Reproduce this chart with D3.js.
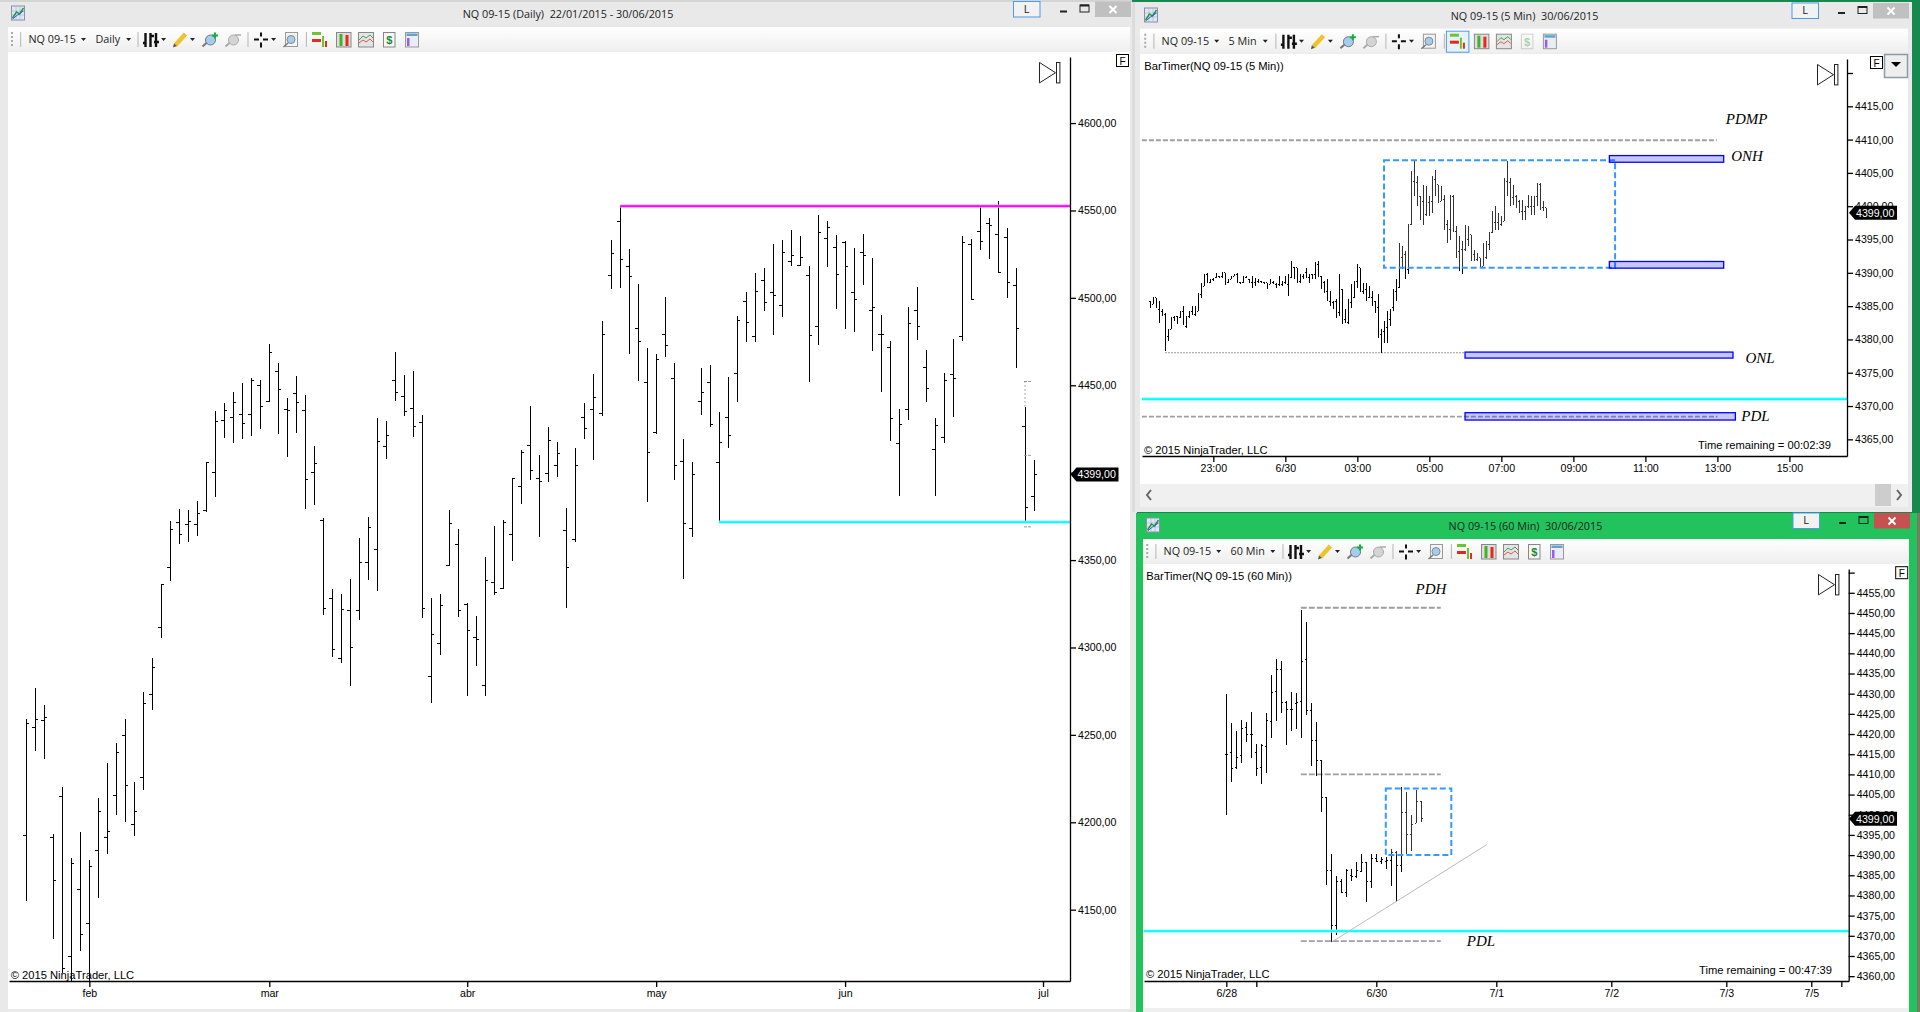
<!DOCTYPE html>
<html>
<head>
<meta charset="utf-8">
<title>NQ 09-15</title>
<script src="https://cdn.jsdelivr.net/npm/d3@7"></script>
<style>
html, body { margin: 0; padding: 0; background: #e9e9e9; overflow: hidden; }
svg { display: block; }
text { font-family: "Liberation Sans", Arial, sans-serif; fill: #000; }
.ui { font-family: "Open Sans", "Noto Sans", sans-serif; fill: #222; }
.note { font-family: "Liberation Serif", serif; font-style: italic; font-size: 15px; text-anchor: middle; }
.axis text { font-size: 10.6px; }
.axis path, .axis line { stroke: #000; stroke-width: 1.3; }
.bar { stroke: #000; stroke-width: 1; shape-rendering: crispEdges; fill: none; }
</style>
</head>
<body>
<div id="chart"></div>
<script>
// ---- daily chart, 22/01/2015 - 30/06/2015
var dailyOpen = [4192.7,4254.2,4258.2,4191.3,4214.8,4123.3,4161.6,4142.1,4183.9,4191.3,
  4215.3,4249.7,4198.8,4225.6,4273.1,4311.5,4345.8,4371.5,4370.4,4370.4,
  4378.2,4400.2,4429.9,4431.6,4433.4,4433.4,4449.9,4440.6,4458.0,4436.2,
  4445.4,4435.6,4400.2,4372.9,4328.0,4293.7,4321.2,4321.2,4348.6,4356.1,
  4415.1,4453.0,4443.7,4436.8,4428.8,4283.4,4302.3,4346.9,4358.9,4324.6,
  4305.7,4278.3,4337.2,4333.6,4364.7,4392.2,4415.6,4396.7,4399.6,4404.2,
  4367.0,4361.9,4431.8,4436.3,4433.8,4512.9,4543.7,4518.0,4482.2,4451.8,
  4423.2,4478.8,4454.0,4406.4,4367.8,4440.8,4451.8,4405.8,4431.4,4456.9,
  4498.0,4478.0,4510.0,4503.1,4495.7,4520.9,4518.6,4512.7,4483.9,4534.1,
  4529.0,4531.5,4503.1,4526.0,4492.9,4479.0,4471.4,4416.9,4436.3,4492.9,
  4460.4,4413.4,4420.1,4456.3,4478.0,4530.7,4538.0,4542.7,4536.4,4534.7,
  4506.8,4426.5,4386.4];
var dailyHigh = [4259.0,4276.6,4267.0,4193.2,4220.1,4179.3,4194.4,4178.7,4213.8,4233.8,
  4245.3,4259.0,4223.0,4274.5,4293.9,4336.6,4372.3,4379.2,4378.6,4383.7,
  4405.9,4435.3,4439.8,4446.1,4451.3,4454.0,4453.0,4473.6,4462.7,4442.7,
  4455.3,4444.4,4415.2,4373.8,4333.4,4330.5,4339.1,4362.6,4374.6,4431.1,
  4429.5,4469.0,4455.9,4458.2,4433.0,4328.2,4330.5,4378.6,4367.7,4325.2,
  4317.9,4351.7,4369.4,4373.2,4396.7,4412.8,4438.1,4410.1,4426.1,4417.4,
  4379.9,4414.0,4439.9,4456.5,4486.7,4533.1,4552.3,4528.0,4508.0,4471.4,
  4467.9,4500.4,4462.8,4419.3,4406.0,4460.0,4461.6,4434.6,4454.7,4489.6,
  4503.3,4514.3,4517.0,4530.9,4533.1,4538.8,4535.4,4518.2,4547.4,4543.9,
  4536.0,4532.5,4528.6,4536.6,4522.9,4490.2,4475.3,4436.5,4494.7,4506.1,
  4470.2,4431.4,4457.1,4476.5,4535.4,4533.7,4552.3,4545.8,4555.4,4540.1,
  4517.2,4437.5,4407.3];
var dailyLow = [4155.1,4240.9,4236.3,4133.3,4113.5,4109.1,4126.5,4109.1,4156.8,4182.0,
  4204.3,4200.3,4192.3,4218.6,4264.3,4305.5,4338.2,4359.3,4360.5,4363.9,
  4377.5,4386.3,4420.0,4417.2,4419.4,4421.2,4425.2,4440.2,4422.3,4409.1,
  4422.9,4379.4,4381.7,4318.7,4294.7,4291.2,4278.1,4315.8,4338.7,4332.4,
  4408.0,4441.2,4432.6,4420.6,4317.0,4268.4,4295.8,4346.4,4317.6,4272.4,
  4289.5,4272.4,4330.1,4333.2,4349.6,4382.3,4396.0,4363.3,4394.8,4397.7,
  4322.5,4360.1,4419.5,4407.5,4432.4,4505.3,4505.9,4468.1,4452.6,4383.4,
  4422.2,4466.3,4396.0,4339.0,4363.3,4433.2,4426.3,4371.7,4414.4,4440.6,
  4474.5,4474.9,4492.7,4479.0,4488.8,4518.2,4518.2,4451.6,4473.3,4517.8,
  4493.9,4482.4,4480.2,4507.6,4469.8,4445.9,4418.3,4386.8,4430.4,4476.1,
  4440.6,4386.8,4416.7,4431.6,4475.1,4498.6,4527.6,4522.5,4514.5,4500.2,
  4459.6,4371.1,4378.3];
var dailyClose = [4256.5,4258.8,4260.0,4166.9,4116.4,4176.6,4135.8,4174.7,4206.2,4194.7,
  4239.9,4221.1,4206.2,4268.0,4288.6,4336.1,4367.5,4364.7,4372.1,4376.7,
  4405.7,4429.4,4435.6,4440.2,4428.2,4453.0,4437.9,4468.8,4447.7,4435.6,
  4440.2,4396.2,4405.3,4322.3,4298.9,4321.8,4300.0,4348.6,4368.7,4417.9,
  4421.4,4445.9,4434.9,4426.5,4322.3,4307.4,4324.0,4371.0,4321.2,4309.7,
  4304.6,4338.3,4331.3,4371.5,4396.7,4411.6,4401.3,4395.0,4418.5,4411.0,
  4346.0,4404.2,4425.4,4442.8,4479.2,4525.6,4522.1,4512.3,4475.1,4411.6,
  4464.5,4472.8,4404.2,4371.1,4399.1,4445.9,4427.3,4417.5,4421.0,4487.1,
  4486.1,4503.9,4497.4,4501.6,4525.8,4524.3,4522.9,4478.2,4537.4,4540.1,
  4513.5,4518.0,4499.2,4524.3,4494.3,4478.8,4430.8,4427.7,4485.1,4483.7,
  4448.3,4427.1,4452.8,4454.0,4531.9,4499.2,4532.3,4541.5,4514.5,4508.8,
  4482.2,4380.3,4399.1];
var dailyPriceTicks = [4600,4550,4500,4450,4400,4350,4300,4250,4200,4150];
var dailyMonths = ["feb","mar","abr","may","jun","jul"];
var dailyMonthBars = [7,27,49,70,91,113];
var dailyResistance = 4552.5, dailySupport = 4371.7, dailyResistanceBar = 66, dailySupportBar = 77;

// ---- 5 min chart
var m5Open = [4385.75,4385.25,4386.25,4384.5,4384.25,4383.75,4380.5,4381.5,4383.25,4383.5,4383.25,4384.25,4382,4383.5,4384.25,4383.75,4384.25,4386.75,4388,4389.75,
  4388.5,4389,4389.25,4389.5,4389.5,4390,4388.5,4389,4389.5,4389.75,4388.5,4388.5,4389.25,4389,4388.5,4388.5,4388.75,4388.75,4388.5,4388.5,
  4388.25,4388.5,4388.25,4388.25,4388.25,4388.5,4388.25,4389.25,4390.75,4390.75,4388.75,4389.5,4390,4389.25,4389.75,4389.75,4391.25,4389.5,4388.5,4387.25,
  4385.75,4385.5,4385.75,4384,4387.5,4383,4382.5,4385.5,4386.25,4388.75,4390.75,4387.25,4387.5,4386.25,4386.25,4385.75,4384.75,4380.75,4381.25,4381.75,
  4383,4384.75,4387.25,4387.75,4392.25,4392.75,4390.5,4397.25,4403.75,4403.5,4401.5,4400.75,4398.75,4400.5,4400.75,4404,4403.25,4400.75,4401,4397.25,
  4396.5,4401.5,4396.25,4393.25,4393.5,4393.5,4395,4395.75,4392.75,4392,4392.25,4391,4392.25,4394.25,4396,4397.5,4397.5,4397.25,4397.75,4403.75,
  4403.5,4401.25,4401.5,4400.75,4399.25,4399.25,4400,4400,4400,4401.5,4403.25,4399.75,4399.75];
var m5High = [4385.75,4386.25,4386.25,4385.75,4384.5,4384,4381.5,4383.25,4383.5,4383.5,4384.25,4385,4383.5,4384.25,4385,4385,4387,4388.5,4389.75,4390,
  4389,4389.25,4390,4389.5,4390,4390,4389,4389.5,4389.75,4390,4388.5,4389.5,4389.5,4389,4389.5,4389.25,4389,4388.75,4388.5,4388.5,
  4389,4388.75,4388.5,4389.5,4388.75,4389.5,4389.75,4391.75,4390.75,4390.75,4389.75,4389.75,4390.75,4389.75,4389.75,4391.5,4391.75,4389.5,4388.75,4389,
  4387.25,4385.75,4386,4389.75,4387.5,4384.5,4386,4388.25,4388.75,4391.25,4390.75,4388.5,4388.5,4388,4387.25,4385.75,4386.75,4381.5,4382.75,4384.25,
  4384.5,4387.5,4389,4394.5,4394,4393.25,4397.25,4405.25,4406.75,4404.5,4401.5,4403.25,4403,4401.5,4404.5,4405.5,4403.25,4403,4401.75,4398,
  4401.75,4401.75,4397,4395.5,4394.75,4397.25,4397,4395.75,4393.5,4393,4392.25,4394.5,4394.75,4396,4399.25,4400,4399,4398.5,4404.25,4406.75,
  4404.25,4403.25,4401.75,4401,4401,4400,4401.75,4401.5,4401.5,4403.5,4403.5,4400.75,4399.75];
var m5Low = [4384.75,4385.25,4384.75,4382.5,4383.5,4378.25,4379.75,4381.5,4382.75,4382.25,4383.25,4382.25,4381.75,4383.25,4383.75,4383.5,4384.25,4386.25,4388,4388.5,
  4388.5,4388.75,4389.25,4389.25,4389.25,4388.25,4388.5,4389,4389.5,4388.5,4388.25,4388.5,4389.25,4388.5,4387.75,4388,4388.5,4388.5,4388.25,4387.5,
  4388.25,4388.25,4387.75,4388,4388,4388.25,4386.5,4389.25,4389,4388.5,4388.5,4389,4389.25,4388.5,4389,4389,4389.5,4387.5,4387,4385.75,
  4385,4384.5,4383.25,4383.5,4382.25,4382.5,4382.25,4384.75,4386.25,4387.75,4387.25,4386.75,4385.75,4386.25,4385,4384,4380.25,4378,4379.5,4379.5,
  4382,4384.25,4385.75,4387.75,4390.5,4389,4389.75,4397.25,4401.5,4400,4398,4397.25,4398.5,4398.5,4399,4401.5,4400.5,4400.75,4396.5,4394.5,
  4395,4396.25,4392.25,4390.25,4389.75,4393.25,4394,4391.75,4391.75,4391.75,4390.75,4391,4392,4393.5,4396,4396.5,4396.5,4397,4397.75,4401.5,
  4400,4400.25,4399.75,4399,4398,4398,4399.75,4398.75,4398.75,4400,4399.5,4399.25,4398.25];
var m5Close = [4385.25,4386.25,4384.75,4384.25,4384,4380.5,4381.5,4383.25,4383.5,4383.25,4384.25,4382.25,4383.25,4384.25,4383.75,4384.75,4386.75,4388.25,4389.75,4388.5,
  4388.75,4389,4389.5,4389.5,4390,4388.25,4389,4389.5,4389.75,4388.5,4388.5,4389.25,4389.25,4388.5,4389,4388.75,4388.75,4388.75,4388.5,4388.25,
  4388.75,4388.5,4388.25,4388.75,4388.25,4388.75,4389.5,4390.25,4390.75,4388.75,4389.5,4389.5,4389.5,4389.75,4389.5,4391.5,4389.5,4388.75,4387.25,4386.5,
  4385.5,4385.75,4384,4387.5,4383.25,4382.75,4385.5,4386.25,4388.75,4390.75,4387.25,4387.5,4386.25,4386.25,4385.75,4385,4380.75,4381.25,4381.75,4383,
  4384.5,4387.25,4387.75,4392,4392.75,4392,4397.25,4403.75,4403.5,4401.75,4400.75,4398.75,4400.5,4400.75,4404,4403.5,4400.75,4401,4397.25,4396.5,
  4401.5,4396.25,4393.25,4393.5,4393.5,4395,4395.75,4392.75,4393,4392,4391,4392.25,4394.25,4396,4397.5,4399,4397.25,4397.5,4403.75,4403.5,
  4401.25,4401.5,4400.75,4400.5,4399.25,4400,4400.5,4400,4401.5,4403.25,4399.75,4399.75,4399];
var m5PriceTicks = [4420,4415,4410,4405,4400,4395,4390,4385,4380,4375,4370,4365];
var m5Times = ["23:00","6/30","03:00","05:00","07:00","09:00","11:00","13:00","15:00"];
var m5TimeBars = [21,45,69,93,117,141,165,189,213];
// zones in bar number / price
var m5Zones = [[153,191.1,4407.6,4406.6],[153,191.1,4391.7,4390.7],[104.9,194.2,4378.1,4377.2],[104.9,195,4369,4367.9]];
var m5Box = [77.9,154.9,4406.9,4390.75];
var m5Dashed = [[-2.8,188.8,4409.9],[-2.8,189,4368.4]];
var m5Dotted = [4.9,104.9,4378];
var m5Support = 4371.05;

// ---- 60 min chart
var h1Open = [4415,4415.5,4411.7,4414.7,4421.7,4419.8,4415.4,4411.7,4416.9,4423.1,4430.5,4436.1,4427.8,4426.1,4427.6,4428,4438.4,4425.8,4418.4,4413.5,
  4404.2,4386.3,4372.6,4383.4,4380.8,4384.9,4384.7,4385.9,4388.2,4383.5,4389.2,4388.4,4388.4,4388.6,4390.6,4387.3,4400.6,4395.2,4397.9,4403.2];
var h1High = [4429.9,4422.7,4420.7,4423.5,4423.1,4425.4,4417.5,4417.5,4425.2,4434.6,4438.7,4438.1,4428.3,4430.3,4430.2,4450.7,4447.7,4427.6,4422.9,4413.5,
  4404.3,4390.3,4384.7,4384,4386.6,4386.5,4388.2,4390.3,4388.4,4390.3,4390.3,4389.6,4389.6,4391.5,4391,4406.8,4405.6,4400,4406.1,4403.5];
var h1Low = [4400,4408,4411.3,4412.9,4418,4414.1,4409.6,4407.5,4410.4,4419.1,4423.2,4425.1,4417.2,4420.8,4421.2,4419.1,4424.6,4412.2,4409.7,4400.8,
  4382.7,4368.4,4370.1,4380.8,4379.7,4383.7,4384.4,4385.8,4378.5,4381.9,4388.2,4387.8,4386.6,4382.4,4378.5,4385.9,4390.2,4390.9,4397.9,4398.3];
var h1Close = [4415,4411.5,4414.2,4421.4,4419.8,4419.8,4411.5,4417.1,4423.3,4430.2,4436.1,4427.8,4426.1,4426.1,4427.8,4438,4425.8,4418.4,4413.5,4404.2,
  4386.3,4372.6,4383.4,4380.8,4386.3,4384.7,4386.3,4388.2,4383.5,4389.2,4388.4,4388.8,4388.6,4390.6,4387.3,4400.6,4395.2,4397.6,4403.2,4399.1];
var h1PriceTicks = [4460,4455,4450,4445,4440,4435,4430,4425,4420,4415,4410,4405,4400,4395,4390,4385,4380,4375,4370,4365,4360];
var h1Dates = ["6/28","","6/30","7/1","7/2","7/3","7/5",""];
var h1DateBars = [0,6,30,54,77,100,117,123];
var h1Dashed = [[14.9,42.9,4451.3],[14.9,42.9,4410],[14.9,42.9,4368.7]];
var h1Box = [31.9,45,4406.5,4390];
var h1Trend = [[21,4368.4],[52.1,4392.6]];
var h1Support = 4371.15;

var lastPrice = 4399;

var fmtPrice = function(d) { return d3.format(".2f")(d).replace(".", ","); };

var svg = d3.select("#chart").append("svg").attr("width", 1920).attr("height", 1012);

// window frames
function box(x, y, w, h, fill) {
  return svg.append("rect").attr("x", x).attr("y", y).attr("width", w).attr("height", h).attr("fill", fill);
}
box(0, 0, 1920, 1012, "#e9e9e9");
box(0, 0, 1132, 2, "#d4d4d4");
box(1132, 0, 788, 514, "#168a4e");
box(1132, 2, 780, 510, "#e9e9e9");
box(1132, 2, 3, 510, "#dcdcdc");
box(1130, 512, 7, 500, "#e9e9e9");
box(1136, 513, 784, 499, "#22c35c");
box(1917, 513, 3, 499, "#7a7a60");

box(8, 52, 1122, 957, "#fff");
box(1140, 54, 768, 430, "#fff");
box(1143, 564, 766, 444, "#fff");
box(1143, 1008, 766, 4, "#efefef");

// scroll bar of the 5 min window
box(1140, 484, 768, 23, "#f0f0f0");
box(1875, 484, 16, 22, "#cdcdcd");
svg.append("path").attr("d", "M1151 490l-4 5 4 5").attr("fill", "none").attr("stroke", "#666").attr("stroke-width", 2);
svg.append("path").attr("d", "M1897 490l4 5-4 5").attr("fill", "none").attr("stroke", "#666").attr("stroke-width", 2);

function titleBar(text, cx, base, b) {
  svg.append("text").attr("class", "ui").attr("x", cx).attr("y", base).attr("text-anchor", "middle")
    .attr("font-size", 10.8).text(text);
  box(b.lx, b.ly, 26.5, 15.5, "#f2f2f2").attr("stroke", "#4a9be8");
  svg.append("text").attr("class", "ui").attr("x", b.lx + 13).attr("y", b.ly + 11).attr("text-anchor", "middle")
    .attr("font-size", 11).text("L");
  box(b.minx, b.ly + 9, 7, 2, "#222");
  box(b.maxx, b.ly + 3.5, 9, 7, "none").attr("stroke", "#222");
  svg.append("line").attr("x1", b.maxx).attr("x2", b.maxx + 9).attr("y1", b.ly + 4).attr("y2", b.ly + 4).attr("stroke", "#222").attr("stroke-width", 2);
  box(b.cx, b.ly, 36, 15.5, b.close);
  svg.append("path").attr("d", "M" + (b.cx + 14.5) + " " + (b.ly + 4.5) + "l7 7m0 -7l-7 7")
    .attr("stroke", "#fff").attr("stroke-width", 2).attr("fill", "none");
}
titleBar("NQ 09-15 (Daily)\u00a0\u00a022/01/2015 - 30/06/2015", 568, 17.5, {lx: 1013.5, ly: 1.5, minx: 1060, maxx: 1080, cx: 1095, close: "#c0c0c0"});
titleBar("NQ 09-15 (5 Min)\u00a0\u00a030/06/2015", 1524.5, 19.5, {lx: 1792, ly: 3, minx: 1838, maxx: 1858, cx: 1873, close: "#c0c0c0"});
titleBar("NQ 09-15 (60 Min)\u00a0\u00a030/06/2015", 1525.5, 529.5, {lx: 1793, ly: 513, minx: 1839, maxx: 1859, cx: 1874, close: "#c75050"});

var defs = svg.append("defs");
var grad = defs.append("linearGradient").attr("id", "tb").attr("x1", 0).attr("x2", 0).attr("y1", 0).attr("y2", 1);
grad.append("stop").attr("offset", 0).attr("stop-color", "#fff");
grad.append("stop").attr("offset", 1).attr("stop-color", "#eee");

function appIcon(x, y) {
  var g = svg.append("g").attr("transform", "translate(" + x + "," + y + ")");
  g.append("rect").attr("width", 13).attr("height", 14).attr("fill", "#dfe6f5").attr("stroke", "#8a8fa8");
  g.append("path").attr("d", "M0 5H13M0 9H13M4.5 0V14M8.5 0V14").attr("stroke", "#a9b2cc").attr("stroke-width", .6);
  g.append("path").attr("d", "M1 12L5 6 8 8 12 2").attr("fill", "none").attr("stroke", "#1c9c30").attr("stroke-width", 1.4);
  g.append("path").attr("d", "M1 13L6 9 12 5").attr("fill", "none").attr("stroke", "#2a5fd0").attr("stroke-width", 1);
}
appIcon(11.5, 6);
appIcon(1144.5, 8);
appIcon(1146.5, 518);

function toolbar(left, right, ox, oy, extra, label, opts) {
  var bg = svg.append("rect").attr("x", left).attr("y", oy + 27).attr("width", right - left).attr("height", 25).attr("fill", "url(#tb)");
  var g = svg.append("g").attr("transform", "translate(" + ox + "," + oy + ")");
  var sep = function(p, x) {
    p.append("line").attr("x1", x).attr("x2", x).attr("y1", 32).attr("y2", 47).attr("stroke", "#b5b5b5");
  };
  var tri = function(p, x) {
    p.append("path").attr("d", "M" + (x - 2.5) + " 38h5l-2.5 3z").attr("fill", "#222");
  };
  g.append("line").attr("x1", 12).attr("x2", 12).attr("y1", 32).attr("y2", 46).attr("stroke", "#aaa").attr("stroke-width", 2).attr("stroke-dasharray", "2 2");
  sep(g, 20.7);
  g.append("text").attr("class", "ui").attr("x", 28.4).attr("y", 43.2).attr("font-size", 10.8).text("NQ 09-15");
  tri(g, 83.5);
  g.append("text").attr("class", "ui").attr("x", 95.4).attr("y", 43.2).attr("font-size", 10.8).text(label);
  tri(g, 128.6 + (opts.labelShift || 0));

  var t = g.append("g").attr("transform", "translate(" + extra + ",0)");
  sep(t, 138);
  // bar style icon
  t.append("path").attr("d", "M145.5 33V47M150.5 33V47M156 33V47M143 43H146M151 36H154M154 42H159").attr("stroke", "#111").attr("stroke-width", 2.4).attr("fill", "none");
  tri(t, 163.6);
  // pencil
  t.append("line").attr("x1", 175.5).attr("y1", 45).attr("x2", 185.5).attr("y2", 34).attr("stroke", "#edc32e").attr("stroke-width", 4.5);
  t.append("path").attr("d", "M173 47.5l1 -4 3 2.5z").attr("fill", "#555");
  tri(t, 192.5);
  // zoom in / out
  var lens = function(x, fill, edge) {
    t.append("line").attr("x1", x).attr("y1", 46.5).attr("x2", x + 5).attr("y2", 42).attr("stroke", edge).attr("stroke-width", 2);
    t.append("circle").attr("cx", x + 8).attr("cy", 40).attr("r", 5).attr("fill", fill).attr("stroke", edge);
  };
  lens(202.5, "#a3cdf0", "#777");
  t.append("path").attr("d", "M215 32.5v6M212 35.5h6").attr("stroke", "#13b03a").attr("stroke-width", 2);
  lens(225.5, "#d4d4d4", "#aaa");
  t.append("path").attr("d", "M235 35h6").attr("stroke", "#aaa").attr("stroke-width", 1.5);
  sep(t, 248);
  // crosshair
  t.append("path").attr("d", "M254 39.5h5M263 39.5h5M261 32.5v4M261 42.5v5").attr("stroke", "#111").attr("stroke-width", 2);
  tri(t, 273.6);
  t.append("rect").attr("x", 285.5).attr("y", 32.5).attr("width", 12).attr("height", 14).attr("fill", "#f4f4f4").attr("stroke", "#999");
  t.append("line").attr("x1", 283.5).attr("y1", 47).attr("x2", 288).attr("y2", 43).attr("stroke", "#777").attr("stroke-width", 1.5);
  t.append("circle").attr("cx", 291).attr("cy", 39.5).attr("r", 4).attr("fill", "#a3cdf0").attr("stroke", "#888");
  sep(t, 306.4);
  // chart tools
  if (opts.selected) {
    t.append("rect").attr("x", 308.5).attr("y", 29.5).attr("width", 22.5).attr("height", 21).attr("fill", "#e6f2fc").attr("stroke", "#4a9be8");
  }
  t.append("path").attr("d", "M312 33.5h9").attr("stroke", "#6fc42c").attr("stroke-width", 3);
  t.append("path").attr("d", "M312 40.5h9").attr("stroke", "#e12b1c").attr("stroke-width", 3);
  t.append("path").attr("d", "M323 36v11").attr("stroke", "#6fc42c").attr("stroke-width", 2);
  t.append("path").attr("d", "M326 41v6").attr("stroke", "#e12b1c").attr("stroke-width", 2);
  t.append("rect").attr("x", 336.5).attr("y", 32.5).attr("width", 14.5).attr("height", 14.5).attr("fill", "#ddd").attr("stroke", "#888");
  t.append("path").attr("d", "M341 34v12").attr("stroke", "#45b02a").attr("stroke-width", 3);
  t.append("path").attr("d", "M347 35v11").attr("stroke", "#e12b1c").attr("stroke-width", 3);
  t.append("rect").attr("x", 358.5).attr("y", 32.5).attr("width", 15).attr("height", 14.5).attr("fill", "#e4e4e4").attr("stroke", "#888");
  t.append("path").attr("d", "M359 40l4 -4 3 2 4 -3 3 3").attr("fill", "none").attr("stroke", "#3aa35a");
  t.append("path").attr("d", "M359 43l4 -3 3 2 4 -3 3 3").attr("fill", "none").attr("stroke", "#e2574c");
  var page = t.append("g").attr("opacity", opts.faded ? .35 : 1);
  page.append("rect").attr("x", 383.5).attr("y", 32.5).attr("width", 11.5).attr("height", 14.5).attr("fill", "#f6f6f6").attr("stroke", "#888");
  page.append("text").attr("x", 389.2).attr("y", 44).attr("text-anchor", "middle").attr("font-size", 11).attr("font-weight", "bold").style("fill", "#1c8a2c").text("$");
  t.append("rect").attr("x", 405.5).attr("y", 32.5).attr("width", 13).attr("height", 14.5).attr("fill", "#e8edf6").attr("stroke", "#999");
  t.append("rect").attr("x", 406.5).attr("y", 33.5).attr("width", 11).attr("height", 2.5).attr("fill", "#5fa3d6");
  t.append("rect").attr("x", 407).attr("y", 38).attr("width", 2.5).attr("height", 8).attr("fill", "#9a5cf0");
  return bg;
}
toolbar(8, 1130, 0, 0, 0, "Daily", {});
toolbar(1140, 1908, 1133.2, 1.7, 4.7, "5 Min", {selected: true, faded: true, labelShift: 3.5});
toolbar(1143, 1909, 1135.2, 512, 9.8, "60 Min", {labelShift: 9});

// chart pieces
function drawBars(g, x, y, tick, open, high, low, close) {
  var bars = g.append("g").selectAll("g").data(d3.range(open.length)).enter().append("g");
  bars.append("line").attr("class", "bar")
    .attr("x1", function(d) { return x(d); }).attr("x2", function(d) { return x(d); })
    .attr("y1", function(d) { return y(high[d]); }).attr("y2", function(d) { return y(low[d]); });
  bars.append("line").attr("class", "bar")
    .attr("x1", function(d) { return x(d) - tick; }).attr("x2", function(d) { return x(d); })
    .attr("y1", function(d) { return y(open[d]); }).attr("y2", function(d) { return y(open[d]); });
  bars.append("line").attr("class", "bar")
    .attr("x1", function(d) { return x(d); }).attr("x2", function(d) { return x(d) + tick; })
    .attr("y1", function(d) { return y(close[d]); }).attr("y2", function(d) { return y(close[d]); });
}

function drawAxes(x, y, left, right, bottom, priceTicks, timeBars, timeLabels, hidden) {
  svg.append("g").attr("class", "axis").attr("transform", "translate(" + right + ",0)")
    .call(d3.axisRight(y).tickValues(priceTicks).tickSizeInner(6).tickSizeOuter(0).tickPadding(2)
      .tickFormat(function(d) { return hidden.indexOf(d) >= 0 ? "" : fmtPrice(d); }));
  svg.append("g").attr("class", "axis").attr("transform", "translate(0," + bottom + ")")
    .call(d3.axisBottom(x).tickValues(timeBars).tickSizeInner(6).tickSizeOuter(0).tickPadding(2.5)
      .tickFormat(function(d, i) { return timeLabels[i]; }));
}

function hline(g, x0, x1, yy, color, width, dash) {
  return g.append("line").attr("x1", x0).attr("x2", x1).attr("y1", yy).attr("y2", yy)
    .attr("stroke", color).attr("stroke-width", width).attr("stroke-dasharray", dash || null);
}

// thick level lines have a pale edge in the screenshot
function level(g, x0, x1, yy, color, pale) {
  hline(g, x0, x1, yy, pale, 3.4);
  hline(g, x0, x1, yy, color, 1.8);
}

function drawBox(g, x, y, b) {
  g.append("rect").attr("x", x(b[0])).attr("y", y(b[2]))
    .attr("width", x(b[1]) - x(b[0])).attr("height", y(b[3]) - y(b[2]))
    .attr("fill", "#fff").attr("fill-opacity", .2)
    .attr("stroke", "#3399ff").attr("stroke-width", 2).attr("stroke-dasharray", "6 3");
}

function badge(x, yy) {
  var p = "M" + x + " " + yy + "l6 -7h42v14h-42z";
  svg.append("path").attr("d", p).attr("fill", "#000");
  svg.append("text").attr("x", x + 7).attr("y", yy + 4).attr("font-size", 10.6).style("fill", "#fff").text(fmtPrice(lastPrice));
}

function endIcon(x, top) {
  svg.append("path").attr("d", "M" + x + " " + top + "l16 10.2 -16 10.2z").attr("fill", "#fff").attr("stroke", "#222");
  svg.append("rect").attr("x", x + 17).attr("y", top).attr("width", 3.4).attr("height", 20.4).attr("fill", "#fff").attr("stroke", "#222");
}

function fBox(x, y) {
  svg.append("rect").attr("x", x).attr("y", y).attr("width", 12).attr("height", 12).attr("fill", "#fff").attr("stroke", "#000");
  svg.append("text").attr("x", x + 6).attr("y", y + 10).attr("text-anchor", "middle").attr("font-size", 10).text("F");
}

function plotText(x, y, txt, anchor) {
  svg.append("text").attr("x", x).attr("y", y).attr("font-size", 11.2).attr("text-anchor", anchor || "start").text(txt);
}

// ---- daily
(function() {
  var x = d3.scaleLinear().domain([-1.93, 116]).range([9, 1070]);
  var y = d3.scaleLinear().domain([4637.8, 4109.2]).range([57, 981]);
  var g = svg.append("g");
  endIcon(1039.5, 62.5);
  fBox(1116.5, 54.5);
  drawBars(g, x, y, 3, dailyOpen, dailyHigh, dailyLow, dailyClose);
  level(g, x(dailyResistanceBar), 1070, y(dailyResistance), "#ff00ff", "#ff99ff");
  level(g, x(dailySupportBar), 1070, y(dailySupport), "#00ffff", "#99ffff");
  // the running bar's ghost range
  [4452.2, 4409.9, 4369].forEach(function(v) {
    hline(g, x(111) - 1, x(111) + 6, y(v), "#999", 1, "3 1");
  });
  g.append("line").attr("x1", x(111)).attr("x2", x(111)).attr("y1", y(4452.2)).attr("y2", y(4437.5))
    .attr("stroke", "#555").attr("stroke-dasharray", "1 3");
  drawAxes(x, y, 9, 1070, 981, dailyPriceTicks, dailyMonthBars, dailyMonths, [4400]);
  badge(1070.5, y(lastPrice));
  plotText(10.7, 979, "\u00a9 2015 NinjaTrader, LLC");
})();

// ---- 5 min
(function() {
  var x = d3.scaleLinear().domain([-2.77, 232.2]).range([1142, 1847]);
  var y = d3.scaleLinear().domain([4422.1, 4362.5]).range([59, 456]);
  var g = svg.append("g");
  endIcon(1817.5, 64.5);
  fBox(1870.5, 56.5);
  box(1884.5, 54.5, 23, 23, "#eee").attr("stroke", "#8a9aa8").attr("stroke-width", 1.5);
  svg.append("path").attr("d", "M1891 62h10l-5 5z").attr("fill", "#000");
  plotText(1144.3, 70, "BarTimer(NQ 09-15 (5 Min))");
  m5Dashed.forEach(function(d) { hline(g, x(d[0]), x(d[1]), y(d[2]), "#a0a0a0", 1.8, "5 2"); });
  hline(g, x(m5Dotted[0]), x(m5Dotted[1]), y(m5Dotted[2]), "#999", 1, "2 1");
  drawBars(g, x, y, 1, m5Open, m5High, m5Low, m5Close);
  level(g, 1142, 1847, y(m5Support), "#00ffff", "#99ffff");
  drawBox(g, x, y, m5Box);
  m5Zones.forEach(function(z) {
    g.append("rect").attr("x", x(z[0])).attr("y", y(z[2])).attr("width", x(z[1]) - x(z[0])).attr("height", y(z[3]) - y(z[2]))
      .attr("fill", "#0000ff").attr("fill-opacity", .22).attr("stroke", "#0000ff").attr("stroke-width", 1.3);
  });
  drawAxes(x, y, 1142, 1847, 456, m5PriceTicks, m5TimeBars, m5Times, [4420]);
  badge(1849, y(lastPrice));
  svg.append("text").attr("class", "note").attr("x", 1746.7).attr("y", 124).text("PDMP");
  svg.append("text").attr("class", "note").attr("x", 1747).attr("y", 161).text("ONH");
  svg.append("text").attr("class", "note").attr("x", 1760).attr("y", 363).text("ONL");
  svg.append("text").attr("class", "note").attr("x", 1755.5).attr("y", 421).text("PDL");
  plotText(1144, 454, "\u00a9 2015 NinjaTrader, LLC");
  plotText(1831, 449, "Time remaining = 00:02:39", "end");
})();

// ---- 60 min
(function() {
  var x = d3.scaleLinear().domain([-16.46, 124.48]).range([1144, 1848.7]);
  var y = d3.scaleLinear().domain([4460.9, 4358.8]).range([569, 981]);
  var g = svg.append("g");
  endIcon(1818.5, 574.5);
  fBox(1895.7, 566.7);
  plotText(1146.3, 580, "BarTimer(NQ 09-15 (60 Min))");
  h1Dashed.forEach(function(d) { hline(g, x(d[0]), x(d[1]), y(d[2]), "#a0a0a0", 1.8, "6 2"); });
  drawBars(g, x, y, 1.5, h1Open, h1High, h1Low, h1Close);
  level(g, 1144, 1848.7, y(h1Support), "#00ffff", "#99ffff");
  drawBox(g, x, y, h1Box);
  g.append("line").attr("x1", x(h1Trend[0][0])).attr("y1", y(h1Trend[0][1]))
    .attr("x2", x(h1Trend[1][0])).attr("y2", y(h1Trend[1][1])).attr("stroke", "#bbb").attr("stroke-width", 1);
  drawAxes(x, y, 1144, 1848.7, 981, h1PriceTicks, h1DateBars, h1Dates, [4460]);
  badge(1849, y(lastPrice));
  svg.append("text").attr("class", "note").attr("x", 1431).attr("y", 593.5).text("PDH");
  svg.append("text").attr("class", "note").attr("x", 1481).attr("y", 946).text("PDL");
  plotText(1146, 978, "\u00a9 2015 NinjaTrader, LLC");
  plotText(1832, 974, "Time remaining = 00:47:39", "end");
})();
</script>
</body>
</html>
